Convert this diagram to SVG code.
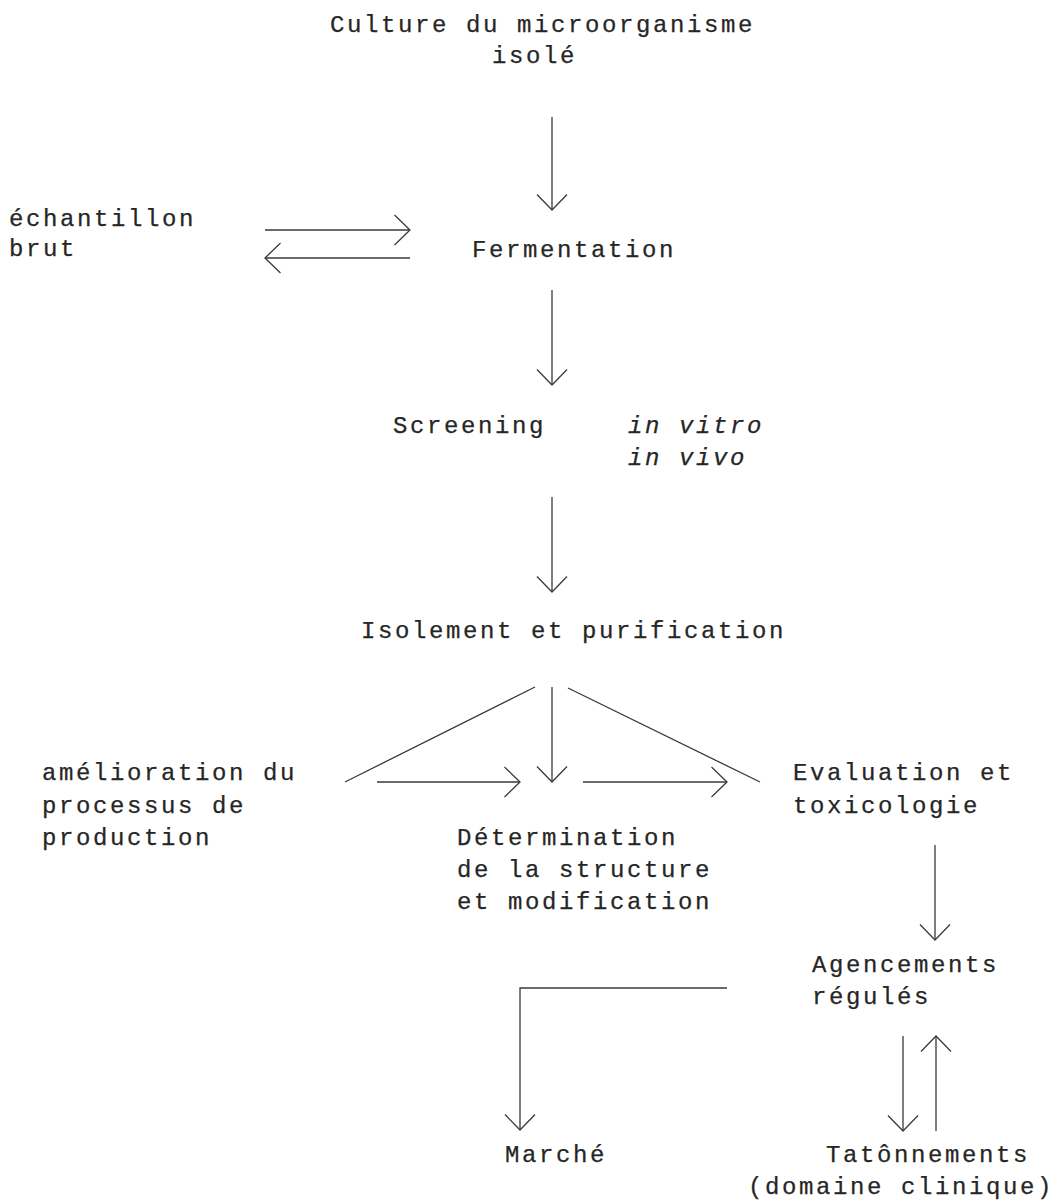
<svg xmlns="http://www.w3.org/2000/svg" width="1053" height="1202" viewBox="0 0 1053 1202">
<style>
text{font-family:"Liberation Mono","DejaVu Sans Mono",monospace;font-size:24px;letter-spacing:2.6px;fill:#262626;stroke:#262626;stroke-width:0.25}
.it{font-style:italic}
.c{fill:none;stroke:#3a3a3a;stroke-width:1.3}
</style>
<defs>
<marker id="ah" markerUnits="userSpaceOnUse" viewBox="0 0 17 32" refX="16" refY="16" markerWidth="17" markerHeight="32" orient="auto">
<path d="M0.5,1 L16,16 L0.5,31" fill="none" stroke="#3a3a3a" stroke-width="1.3"/>
</marker>
</defs>
<rect width="1053" height="1202" fill="#fff"/>
<g id="culture"><text x="330" y="32">Culture du microorganisme</text><text x="492" y="63">isolé</text></g>
<g id="echantillon"><text x="9" y="226">échantillon</text><text x="9" y="256">brut</text></g>
<g id="fermentation"><text x="472" y="257">Fermentation</text></g>
<g id="screening"><text x="393" y="433">Screening</text><text class="it" x="628" y="433">in vitro</text><text class="it" x="628" y="465">in vivo</text></g>
<g id="isolement"><text x="361" y="638">Isolement et purification</text></g>
<g id="amelioration"><text x="42" y="780">amélioration du</text><text x="42" y="813">processus de</text><text x="42" y="845">production</text></g>
<g id="evaluation"><text x="793" y="780">Evaluation et</text><text x="793" y="813">toxicologie</text></g>
<g id="determination"><text x="457" y="845">Détermination</text><text x="457" y="877">de la structure</text><text x="457" y="909">et modification</text></g>
<g id="agencements"><text x="812" y="972">Agencements</text><text x="812" y="1004">régulés</text></g>
<g id="marche"><text x="505" y="1162">Marché</text></g>
<g id="tatonnements"><text x="826" y="1162">Tatônnements</text><text x="748" y="1194">(domaine clinique)</text></g>
<g id="connectors">
<line class="c" x1="552" y1="117" x2="552" y2="210" marker-end="url(#ah)"/>
<line class="c" x1="265" y1="230" x2="410" y2="230" marker-end="url(#ah)"/>
<line class="c" x1="410" y1="258" x2="265" y2="258" marker-end="url(#ah)"/>
<line class="c" x1="552" y1="290" x2="552" y2="385" marker-end="url(#ah)"/>
<line class="c" x1="552" y1="497" x2="552" y2="592" marker-end="url(#ah)"/>
<line class="c" x1="535" y1="687" x2="345" y2="782"/>
<line class="c" x1="552" y1="687" x2="552" y2="782" marker-end="url(#ah)"/>
<line class="c" x1="568" y1="688" x2="760" y2="782"/>
<line class="c" x1="377" y1="782" x2="520" y2="782" marker-end="url(#ah)"/>
<line class="c" x1="583" y1="782" x2="727" y2="782" marker-end="url(#ah)"/>
<line class="c" x1="935" y1="845" x2="935" y2="940" marker-end="url(#ah)"/>
<polyline class="c" points="727,988 520,988 520,1130" marker-end="url(#ah)"/>
<line class="c" x1="903" y1="1036" x2="903" y2="1131" marker-end="url(#ah)"/>
<line class="c" x1="936" y1="1131" x2="936" y2="1036" marker-end="url(#ah)"/>
</g>
</svg>
